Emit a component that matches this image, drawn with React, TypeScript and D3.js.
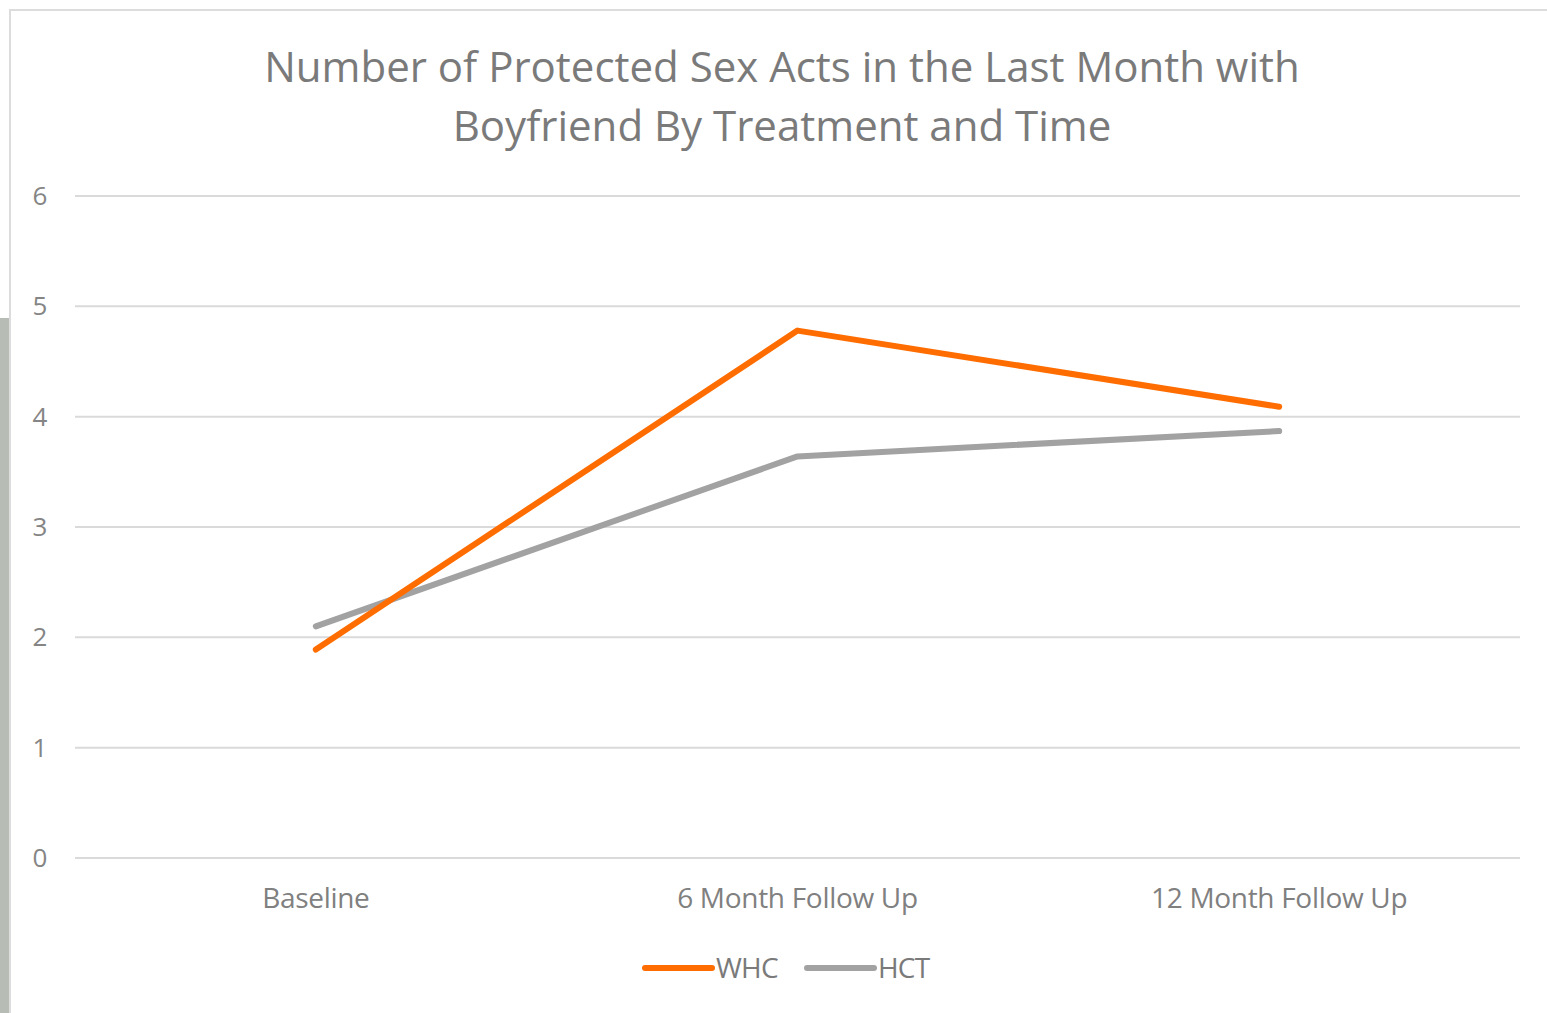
import React, { useEffect, useRef } from 'react';
import * as d3 from 'd3';

const categories = ['Baseline', '6 Month Follow Up', '12 Month Follow Up'];
const whcValues = [1.89, 4.78, 4.09];
const hctValues = [2.1, 3.64, 3.87];
const yTicks = [0, 1, 2, 3, 4, 5, 6];
const titleLines = [
  'Number of Protected Sex Acts in the Last Month with',
  'Boyfriend By Treatment and Time',
];

const series = [
  { name: 'WHC', values: whcValues, color: '#ff6d00' },
  { name: 'HCT', values: hctValues, color: '#a2a2a2' },
];

const W = 1547;
const H = 1013;
const FONT = "'Open Sans', 'Noto Sans', sans-serif";

const App = () => {
  const ref = useRef<SVGSVGElement>(null);

  useEffect(() => {
    const svg = d3.select(ref.current);
    svg.selectAll('*').remove();

    // page background + chart frame
    svg.append('rect').attr('width', W).attr('height', H).attr('fill', '#ffffff');
    svg
      .append('rect')
      .attr('x', 0)
      .attr('y', 318)
      .attr('width', 9)
      .attr('height', H - 318)
      .attr('fill', '#b7bdb4');
    svg
      .append('rect')
      .attr('x', 10)
      .attr('y', 10)
      .attr('width', W + 20)
      .attr('height', H + 20)
      .attr('fill', '#ffffff')
      .attr('stroke', '#dcdcdc')
      .attr('stroke-width', 2);

    const left = 75;
    const right = 1520;
    const top = 196;
    const bottom = 858;

    const x = d3.scaleBand().domain(categories).range([left, right]);
    const y = d3.scaleLinear().domain([0, 6]).range([bottom, top]);

    // title
    svg
      .append('g')
      .selectAll('text')
      .data(titleLines)
      .enter()
      .append('text')
      .attr('x', 782)
      .attr('y', (d, i) => 82 + i * 59)
      .attr('text-anchor', 'middle')
      .attr('font-family', FONT)
      .attr('font-size', 42)
      .attr('fill', '#7a7a7a')
      .text((d) => d);

    // gridlines
    svg
      .append('g')
      .selectAll('line')
      .data(yTicks)
      .enter()
      .append('line')
      .attr('x1', left)
      .attr('x2', right)
      .attr('y1', (d) => y(d))
      .attr('y2', (d) => y(d))
      .attr('stroke', '#dadada')
      .attr('stroke-width', 2);

    // y tick labels
    svg
      .append('g')
      .selectAll('text')
      .data(yTicks)
      .enter()
      .append('text')
      .attr('x', 40)
      .attr('y', (d) => y(d))
      .attr('dy', '0.35em')
      .attr('text-anchor', 'middle')
      .attr('font-family', FONT)
      .attr('font-size', 26)
      .attr('fill', '#858585')
      .text((d) => d);

    // category labels
    svg
      .append('g')
      .selectAll('text')
      .data(categories)
      .enter()
      .append('text')
      .attr('x', (d) => (x(d) as number) + x.bandwidth() / 2)
      .attr('y', 898)
      .attr('dy', '0.35em')
      .attr('text-anchor', 'middle')
      .attr('font-family', FONT)
      .attr('font-size', 28)
      .attr('letter-spacing', -0.3)
      .attr('fill', '#808080')
      .text((d) => d);

    // lines
    const line = d3
      .line<number>()
      .x((d, i) => (x(categories[i]) as number) + x.bandwidth() / 2)
      .y((d) => y(d));

    series
      .slice()
      .reverse()
      .forEach((s) => {
        svg
          .append('path')
          .datum(s.values)
          .attr('d', line)
          .attr('fill', 'none')
          .attr('stroke', s.color)
          .attr('stroke-width', 6)
          .attr('stroke-linecap', 'round')
          .attr('stroke-linejoin', 'round');
      });

    // legend
    const legendX = [645, 807];
    const lg = svg
      .append('g')
      .selectAll('g')
      .data(series)
      .enter()
      .append('g')
      .attr('transform', (d, i) => `translate(${legendX[i]},968)`);
    lg.append('line')
      .attr('x1', 0)
      .attr('x2', 67)
      .attr('stroke', (d) => d.color)
      .attr('stroke-width', 6)
      .attr('stroke-linecap', 'round');
    lg.append('text')
      .attr('x', 71)
      .attr('dy', '0.35em')
      .attr('font-family', FONT)
      .attr('font-size', 28)
      .attr('letter-spacing', -0.8)
      .attr('fill', '#7a7a7a')
      .text((d) => d.name);
  }, []);

  return (
    <svg
      ref={ref}
      width={W}
      height={H}
      style={{ position: 'absolute', left: 0, top: 0, display: 'block' }}
    />
  );
};

export default App;
